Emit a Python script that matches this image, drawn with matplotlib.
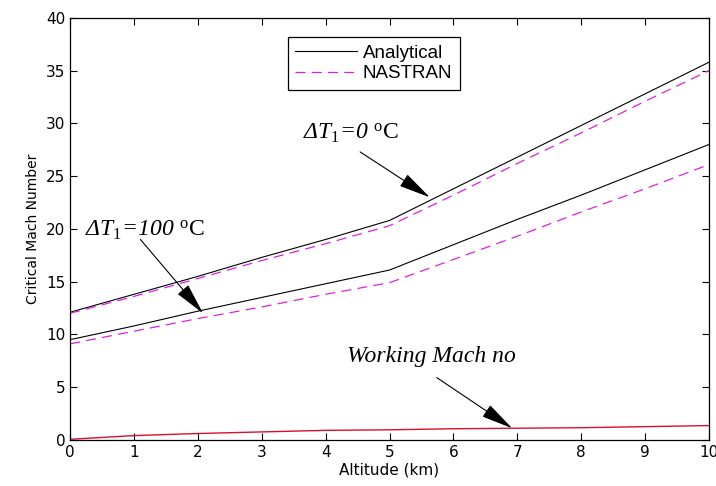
import matplotlib.pyplot as plt

# altitude grid (km)
altitude = [0, 1, 2, 3, 4, 5, 6, 7, 8, 9, 10]

# critical Mach number, dT1 = 0 C
analytical_dt0 = [12.1, 13.8, 15.5, 17.3, 19.0, 20.8, 23.8, 26.8, 29.8, 32.8, 35.8]
nastran_dt0 = [12.0, 13.6, 15.3, 17.0, 18.6, 20.3, 23.2, 26.2, 29.1, 32.1, 35.0]

# critical Mach number, dT1 = 100 C
analytical_dt100 = [9.5, 10.8, 12.2, 13.5, 14.8, 16.1, 18.5, 20.9, 23.2, 25.6, 28.0]
nastran_dt100 = [9.1, 10.3, 11.5, 12.6, 13.8, 14.9, 17.1, 19.3, 21.6, 23.8, 26.1]

# working Mach number of the vehicle
working_mach = [0.05, 0.4, 0.6, 0.75, 0.9, 0.95, 1.05, 1.1, 1.15, 1.25, 1.35]

plt.rcParams['mathtext.fontset'] = 'custom'
plt.rcParams['mathtext.rm'] = 'Liberation Serif'
plt.rcParams['mathtext.it'] = 'Liberation Serif:italic'

fig = plt.figure(figsize=(7.16, 4.86), dpi=100)
ax = fig.add_axes([0.098, 0.095, 0.892, 0.868])

ax.plot(altitude, analytical_dt0, color='black', lw=0.8, label='Analytical')
ax.plot(altitude, nastran_dt0, color='#e020e0', lw=0.9, dashes=(8, 5), label='NASTRAN')
ax.plot(altitude, analytical_dt100, color='black', lw=0.8)
ax.plot(altitude, nastran_dt100, color='#e020e0', lw=0.9, dashes=(8, 5))
ax.plot(altitude, working_mach, color='#d8102a', lw=1.0)

ax.set_xlim(0, 10)
ax.set_ylim(0, 40)
ax.set_xticks(range(0, 11))
ax.set_yticks(range(0, 41, 5))
ax.tick_params(direction='in', top=True, right=True, length=5, labelsize=11)
for s in ax.spines.values():
    s.set_linewidth(0.9)

ax.set_xlabel('Altitude (km)', fontsize=11, labelpad=2)
ax.set_ylabel('Critical Mach Number', fontsize=10, labelpad=4)

leg = ax.legend(loc='upper left', bbox_to_anchor=(0.341, 0.955),
                prop={'family': 'Liberation Sans', 'size': 13.5},
                fancybox=False, edgecolor='black', framealpha=1,
                handlelength=3.3, borderpad=0.4, labelspacing=0.2,
                handletextpad=0.3, borderaxespad=0)
leg.get_frame().set_linewidth(0.9)

# annotations
label_kw = dict(fontsize=17, family='Liberation Serif', style='italic', va='center')
ax.text(3.65, 29.1, r'ΔT$_{\mathit{1}}$=0 $^{\mathrm{o}}\mathrm{C}$', **label_kw)
ax.text(0.235, 19.9, r'ΔT$_{\mathit{1}}$=100 $^{\mathrm{o}}\mathrm{C}$', **label_kw)
ax.text(4.33, 7.9, 'Working Mach no', **label_kw)

arrow = dict(arrowstyle='-|>,head_length=1.0,head_width=0.22', color='black',
             lw=0.8, shrinkA=0, shrinkB=0, mutation_scale=20)
ax.annotate('', xy=(5.63, 23.0), xytext=(4.54, 27.3), arrowprops=arrow)
ax.annotate('', xy=(2.08, 12.0), xytext=(1.1, 19.0), arrowprops=arrow)
ax.annotate('', xy=(6.92, 1.1), xytext=(5.74, 5.9), arrowprops=arrow)

fig.savefig('out.png', dpi=100)
